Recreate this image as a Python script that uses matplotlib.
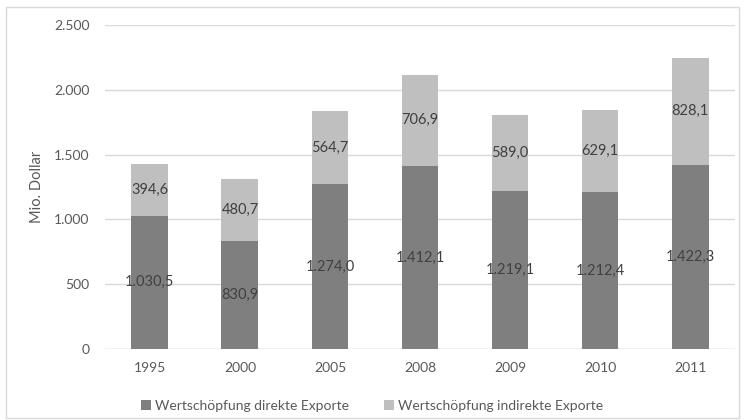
import matplotlib.pyplot as plt
from matplotlib.patches import Rectangle
from matplotlib.ticker import FuncFormatter

# data
years = ['1995', '2000', '2005', '2008', '2009', '2010', '2011']
direkt = [1030.5, 830.9, 1274.0, 1412.1, 1219.1, 1212.4, 1422.3]
indirekt = [394.6, 480.7, 564.7, 706.9, 589.0, 629.1, 828.1]

DARK = '#7f7f7f'
LIGHT = '#bfbfbf'
TXT = '#595959'

plt.rcParams['font.family'] = ['Lato', 'DejaVu Sans']


def de_fmt(v, dec=1):
    s = f'{v:,.{dec}f}'
    return s.replace(',', 'X').replace('.', ',').replace('X', '.')


fig = plt.figure(figsize=(7.44, 4.2), dpi=100)
ax = fig.add_axes([0.141, 0.169, 0.847, 0.771])

# outer chart frame
fig.patches.append(Rectangle((6 / 744, 2 / 420), 733 / 744, 411 / 420,
                             transform=fig.transFigure, fill=False,
                             edgecolor='#d9d9d9', linewidth=1))

x = range(len(years))
b1 = ax.bar(x, direkt, width=0.41, color=DARK, label='Wertschöpfung direkte Exporte', zorder=2)
b2 = ax.bar(x, indirekt, width=0.41, bottom=direkt, color=LIGHT,
            label='Wertschöpfung indirekte Exporte', zorder=2)

for i in x:
    ax.text(i, direkt[i] / 2, de_fmt(direkt[i]), ha='center', va='center',
            fontsize=10.5, color='#404040', zorder=3)
    ax.text(i, direkt[i] + indirekt[i] / 2, de_fmt(indirekt[i]), ha='center', va='center',
            fontsize=10.5, color='#404040', zorder=3)

ax.set_xlim(-0.5, len(years) - 0.5)
ax.set_ylim(0, 2500)
ax.set_yticks(range(0, 2501, 500))
ax.yaxis.set_major_formatter(FuncFormatter(lambda v, p: de_fmt(v, 0)))
ax.set_xticks(list(x))
ax.set_xticklabels(years)
ax.grid(axis='y', color='#d9d9d9', linewidth=1, zorder=0)
ax.tick_params(length=0, colors=TXT, labelsize=10)
ax.tick_params(axis='y', pad=11)
ax.tick_params(axis='x', pad=9)
for s in ax.spines.values():
    s.set_visible(False)
ax.axhline(0, color='#d9d9d9', linewidth=1, zorder=1)

ax.set_ylabel('Mio. Dollar', color=TXT, fontsize=10.5, labelpad=7)

fig.legend(handles=[b1, b2], loc='center', bbox_to_anchor=(0.5, 0.033), ncol=2,
           frameon=False, fontsize=10, labelcolor=TXT, handlelength=0.7,
           handleheight=0.7, handletextpad=0.3, columnspacing=2.5)

fig.savefig('out.png', dpi=100)
